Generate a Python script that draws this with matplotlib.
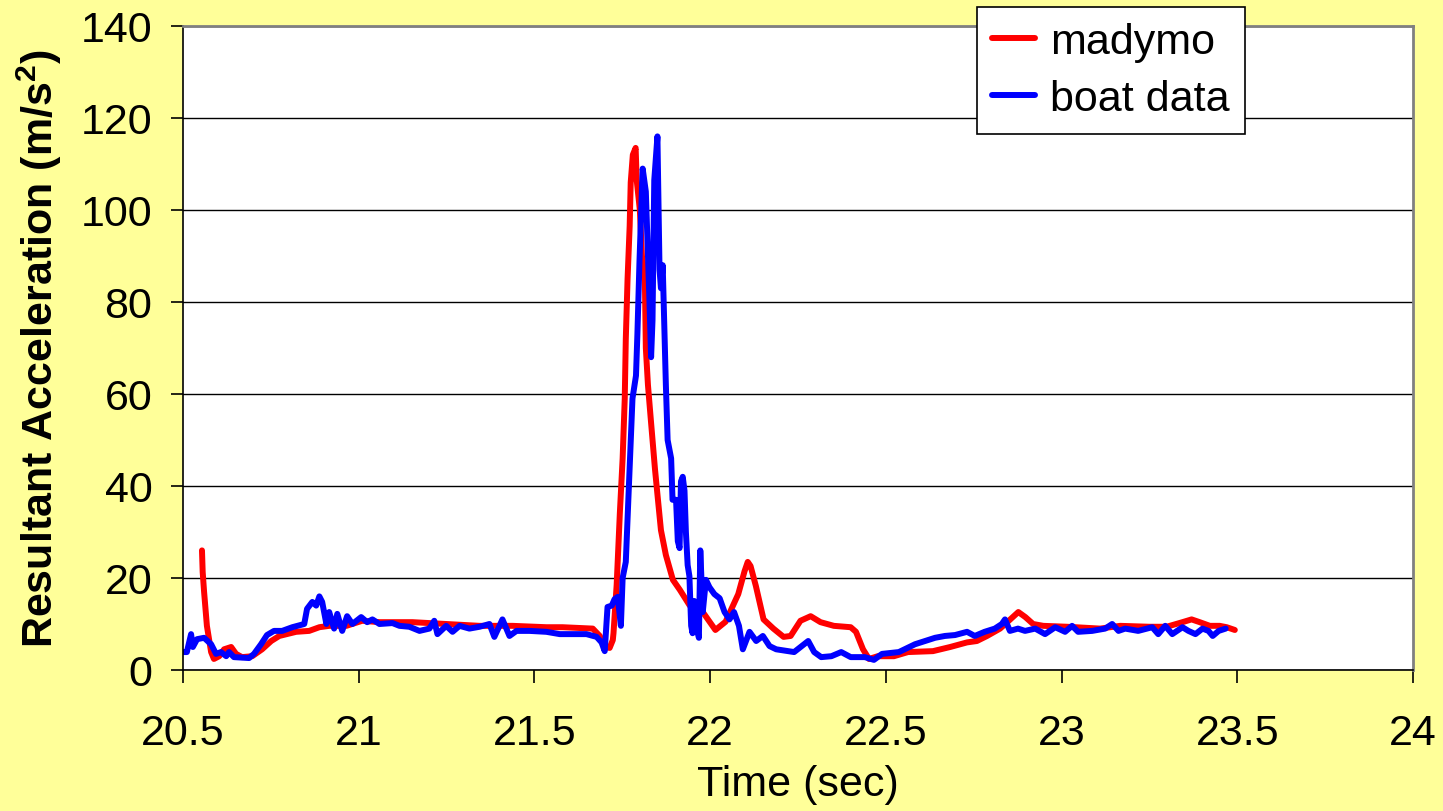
import numpy as np
import matplotlib
matplotlib.use('Agg')
import matplotlib.pyplot as plt
from matplotlib.ticker import FormatStrFormatter, MultipleLocator

plt.rcParams['font.family'] = ['Liberation Sans', 'DejaVu Sans']
plt.rcParams['mathtext.fontset'] = 'custom'
plt.rcParams['mathtext.rm'] = 'Liberation Sans'
plt.rcParams['mathtext.bf'] = 'Liberation Sans:bold'

# madymo simulation (time in s, resultant acceleration in m/s^2)
madymo_t = [20.554, 20.556, 20.560, 20.568, 20.580, 20.588, 20.603, 20.617, 20.637, 20.651,
            20.668, 20.697, 20.725, 20.751, 20.774, 20.822, 20.859, 20.888, 20.916, 20.965,
            21.010, 21.059, 21.153, 21.249, 21.344, 21.438, 21.534, 21.580, 21.666, 21.686,
            21.700, 21.714, 21.723, 21.725, 21.734, 21.743, 21.751, 21.757, 21.760, 21.765,
            21.771, 21.774, 21.780, 21.788, 21.791, 21.800, 21.806, 21.814, 21.817, 21.823,
            21.831, 21.843, 21.851, 21.860, 21.874, 21.894, 21.914, 21.942, 21.979, 22.015,
            22.044, 22.080, 22.098, 22.107, 22.115, 22.130, 22.152, 22.180, 22.209, 22.229,
            22.257, 22.286, 22.314, 22.352, 22.400, 22.415, 22.435, 22.452, 22.477, 22.523,
            22.563, 22.634, 22.683, 22.731, 22.759, 22.788, 22.825, 22.854, 22.877, 22.897,
            22.919, 22.948, 23.016, 23.110, 23.167, 23.250, 23.299, 23.344, 23.370, 23.393,
            23.422, 23.450, 23.470, 23.493]
madymo_a = [26, 21.3, 17, 9.6, 3.9, 2.4, 3, 4.5, 5, 3.5,
            2.8, 3, 4.5, 6.3, 7.4, 8.3, 8.5, 9.3, 9.6, 9.6,
            10.7, 10.4, 10.4, 10, 9.6, 9.6, 9.3, 9.3, 9, 7.4,
            5, 4.8, 6.5, 8, 18.5, 34, 46, 59, 72, 85,
            96.5, 106, 112, 113.5, 106.5, 100, 90, 86, 70, 62,
            54.6, 43.7, 37.4, 30.4, 25, 19.6, 17.4, 14, 12.6, 8.7,
            10.5, 16.5, 21.5, 23.5, 22.6, 18.3, 11, 9, 7.2, 7.4,
            10.7, 11.7, 10.4, 9.6, 9.3, 8.3, 4.5, 2.4, 3, 3,
            3.9, 4.1, 5, 6, 6.3, 7.4, 9, 11, 12.6, 11.5,
            10, 9.6, 9.4, 9, 9.6, 9.4, 9.4, 10.4, 11, 10.4,
            9.6, 9.6, 9.3, 8.7]

# measured boat data
boat_t = [20.503, 20.511, 20.523, 20.528, 20.540, 20.560, 20.580, 20.594, 20.608, 20.623,
          20.631, 20.645, 20.688, 20.702, 20.722, 20.739, 20.759, 20.782, 20.811, 20.845,
          20.853, 20.868, 20.879, 20.888, 20.896, 20.908, 20.916, 20.930, 20.939, 20.953,
          20.967, 20.982, 21.007, 21.024, 21.039, 21.059, 21.096, 21.116, 21.144, 21.173,
          21.201, 21.215, 21.224, 21.249, 21.267, 21.287, 21.315, 21.344, 21.372, 21.386,
          21.409, 21.429, 21.449, 21.486, 21.534, 21.572, 21.609, 21.648, 21.677, 21.691,
          21.700, 21.708, 21.720, 21.728, 21.737, 21.746, 21.751, 21.760, 21.770, 21.779,
          21.789, 21.793, 21.799, 21.808, 21.817, 21.822, 21.827, 21.832, 21.836, 21.841,
          21.850, 21.856, 21.860, 21.865, 21.870, 21.874, 21.879, 21.889, 21.893, 21.903,
          21.908, 21.913, 21.917, 21.922, 21.927, 21.931, 21.936, 21.941, 21.946, 21.950,
          21.955, 21.965, 21.968, 21.972, 21.979, 21.988, 21.998, 22.012, 22.027, 22.041,
          22.055, 22.068, 22.082, 22.093, 22.112, 22.131, 22.150, 22.169, 22.188, 22.239,
          22.279, 22.296, 22.316, 22.345, 22.373, 22.400, 22.440, 22.466, 22.489, 22.537,
          22.583, 22.611, 22.640, 22.668, 22.697, 22.731, 22.753, 22.781, 22.810, 22.830,
          22.839, 22.853, 22.876, 22.896, 22.925, 22.953, 22.982, 23.010, 23.030, 23.047,
          23.087, 23.124, 23.144, 23.162, 23.181, 23.218, 23.258, 23.275, 23.295, 23.315,
          23.344, 23.361, 23.381, 23.401, 23.418, 23.430, 23.447, 23.467]
boat_a = [3.9, 3.9, 7.8, 5, 6.7, 7, 5.6, 3.5, 3.9, 3,
          3.9, 2.8, 2.6, 3.5, 5.6, 7.6, 8.5, 8.5, 9.3, 10,
          13.3, 14.8, 14, 16, 14.8, 10, 12.6, 9, 12.2, 8.5,
          11.7, 10, 11.5, 10.4, 11, 10, 10.2, 9.6, 9.4, 8.5,
          9, 10.7, 7.8, 9.6, 8.3, 9.6, 9, 9.4, 10, 7.2,
          11, 7.4, 8.5, 8.5, 8.3, 7.8, 7.8, 7.8, 7.2, 6,
          4.1, 13.7, 14, 15.4, 15.9, 9.6, 20, 23.5, 42, 59,
          64, 73, 89, 109, 104, 92.6, 81, 68, 76, 106.5,
          116, 87, 83, 88, 74, 62, 50, 46, 37, 37,
          28, 26.5, 41, 42, 39, 30, 22.8, 20.4, 9.6, 8,
          15, 8, 7, 26, 12.6, 19.6, 18, 16.5, 15.6, 12.6,
          11, 12.6, 9.6, 4.5, 8.3, 6.3, 7.4, 5.2, 4.5, 3.9,
          6.3, 3.9, 2.8, 3, 3.9, 2.8, 2.8, 2.2, 3.5, 3.9,
          5.6, 6.3, 7, 7.4, 7.6, 8.3, 7.4, 8.3, 9, 10,
          11, 8.5, 9, 8.5, 9, 7.8, 9.3, 8.3, 9.6, 8.3,
          8.5, 9, 10, 8.5, 9, 8.5, 9.3, 7.8, 9.6, 7.8,
          9.3, 8.5, 7.8, 9, 8.5, 7.4, 8.5, 9]

yticks = [0, 20, 40, 60, 80, 100, 120, 140]

fig = plt.figure(figsize=(14.43, 8.12), dpi=100, facecolor='#FFFF99')
ax = fig.add_axes([183/1443, 1 - 671/812, 1230/1443, 644/812])
ax.set_facecolor('white')

ax.plot(madymo_t, madymo_a, color='#FF0000', lw=4.3, label='madymo',
        solid_joinstyle='round', solid_capstyle='round')
ax.plot(boat_t, boat_a, color='#0000FF', lw=4.3, label='boat data',
        solid_joinstyle='round', solid_capstyle='round')

ax.set_xlim(20.5, 24)
ax.set_ylim(0, 140)
ax.xaxis.set_major_locator(MultipleLocator(0.5))
ax.xaxis.set_major_formatter(FormatStrFormatter('%g'))
ax.set_yticks(yticks)
ax.yaxis.grid(True, color='black', lw=1.0)
ax.set_axisbelow(True)

for side in ('top', 'right'):
    ax.spines[side].set_color('#808080')
    ax.spines[side].set_linewidth(2)
for side in ('left', 'bottom'):
    ax.spines[side].set_color('black')
    ax.spines[side].set_linewidth(1.2)

ax.tick_params(axis='both', direction='out', length=9, width=1.2, labelsize=31)
ax.tick_params(axis='y', pad=13)
ax.tick_params(axis='x', pad=22)

ax.set_xlabel('Time (sec)', fontsize=31, labelpad=8)
ax.set_ylabel(r'Resultant Acceleration (m/s$^{\mathbf{2}}$)', fontsize=31,
              fontweight='bold', labelpad=12)

leg = ax.legend(loc='upper right', bbox_to_anchor=(1245/1443, 1 - 8/812),
                bbox_transform=fig.transFigure, fontsize=31, frameon=True,
                fancybox=False, framealpha=1, edgecolor='black', borderaxespad=0,
                handlelength=1.0, handletextpad=0.35, borderpad=0.35, labelspacing=0.4)
leg.get_frame().set_linewidth(1.2)

fig.savefig('out.png', dpi=100, facecolor=fig.get_facecolor())
